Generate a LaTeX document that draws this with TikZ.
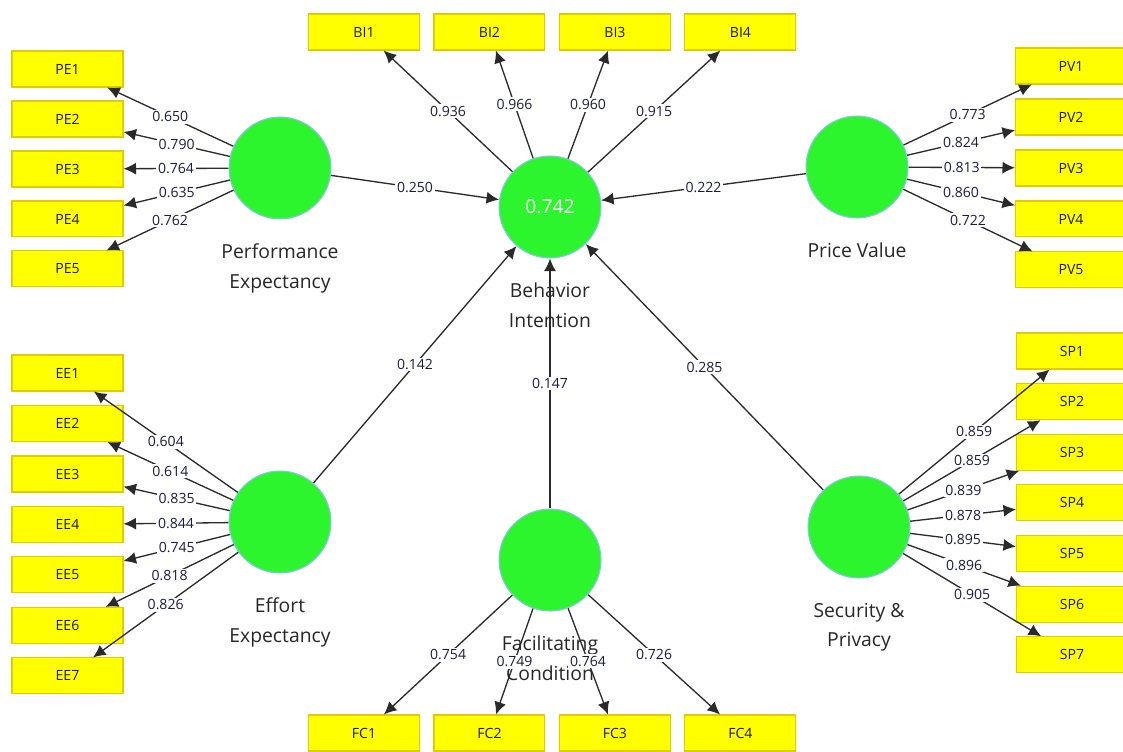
\documentclass[tikz,border=0pt]{standalone}
\usepackage{fontspec}
\setmainfont{Open Sans}
\usetikzlibrary{arrows.meta,positioning}
\definecolor{lvgreen}{HTML}{2DF52D}
\definecolor{lvrim}{HTML}{8CC4EC}
\definecolor{mvyellow}{HTML}{FFFF00}
\definecolor{mvrim}{HTML}{E0CC00}
\definecolor{pathgray}{HTML}{2A2A2A}
\definecolor{coefblue}{HTML}{1C1C40}
\begin{document}
\begin{tikzpicture}[x=0.02cm,y=-0.02cm,node distance=1cm,
      latent node/.style={circle,fill=lvgreen,draw=lvrim,line width=0.6pt,inner sep=0pt,minimum size=2.04cm},
      lv label/.style={font=\fontsize{11}{17}\selectfont,align=center,text=black!85,inner sep=0pt},
      item node/.style={rectangle,fill=mvyellow,draw=mvrim,line width=0.6pt,minimum width=2.22cm,minimum height=0.72cm,font=\fontsize{8}{9}\selectfont,text=black!90},
      coef/.style={fill=white,inner sep=1pt,font=\fontsize{8}{9}\selectfont,text=coefblue}]

      \useasboundingbox (0,0) rectangle (1123,751);

      \node[latent node,label={[lv label,label distance=0.48cm]below:{Performance\\Expectancy}}] (PE) at (280,168) {};
      \node[latent node,text=white,font=\fontsize{11}{13}\selectfont,label={[lv label,label distance=0.48cm]below:{Behavior\\Intention}}] (BI) at (550,207) {0.742};
      \node[latent node,label={[lv label,label distance=0.48cm]below:{Price Value}}] (PV) at (857,167) {};
      \node[latent node,label={[lv label,label distance=0.48cm]below:{Effort\\Expectancy}}] (EE) at (280,522) {};
      \node[latent node,label={[lv label,label distance=0.48cm]below:{Facilitating\\Condition}}] (FC) at (550,560) {};
      \node[latent node,label={[lv label,label distance=0.48cm]below:{Security \&\\Privacy}}] (SP) at (859,527) {};

      \node[item node] (PE1) at (67.5,69) {PE1};
      \node[item node] (PE2) [below of=PE1] {PE2};
      \node[item node] (PE3) [below of=PE2] {PE3};
      \node[item node] (PE4) [below of=PE3] {PE4};
      \node[item node] (PE5) [below of=PE4] {PE5};

      \node[item node] (EE1) at (67.5,373) {EE1};
      \node[item node,node distance=1.01cm] (EE2) [below of=EE1] {EE2};
      \node[item node,node distance=1.01cm] (EE3) [below of=EE2] {EE3};
      \node[item node,node distance=1.01cm] (EE4) [below of=EE3] {EE4};
      \node[item node,node distance=1.01cm] (EE5) [below of=EE4] {EE5};
      \node[item node,node distance=1.01cm] (EE6) [below of=EE5] {EE6};
      \node[item node,node distance=1.01cm] (EE7) [below of=EE6] {EE7};

      \node[item node] (BI1) at (364,32) {BI1};
      \node[item node,node distance=2.51cm] (BI2) [right of=BI1] {BI2};
      \node[item node,node distance=2.51cm] (BI3) [right of=BI2] {BI3};
      \node[item node,node distance=2.51cm] (BI4) [right of=BI3] {BI4};

      \node[item node] (FC1) at (364,733) {FC1};
      \node[item node,node distance=2.51cm] (FC2) [right of=FC1] {FC2};
      \node[item node,node distance=2.51cm] (FC3) [right of=FC2] {FC3};
      \node[item node,node distance=2.51cm] (FC4) [right of=FC3] {FC4};

      \node[item node] (PV1) at (1071,66) {PV1};
      \node[item node,node distance=1.02cm] (PV2) [below of=PV1] {PV2};
      \node[item node,node distance=1.02cm] (PV3) [below of=PV2] {PV3};
      \node[item node,node distance=1.02cm] (PV4) [below of=PV3] {PV4};
      \node[item node,node distance=1.02cm] (PV5) [below of=PV4] {PV5};

      \node[item node] (SP1) at (1072,351) {SP1};
      \node[item node,node distance=1.013cm] (SP2) [below of=SP1] {SP2};
      \node[item node,node distance=1.013cm] (SP3) [below of=SP2] {SP3};
      \node[item node,node distance=1.013cm] (SP4) [below of=SP3] {SP4};
      \node[item node,node distance=1.013cm] (SP5) [below of=SP4] {SP5};
      \node[item node,node distance=1.013cm] (SP6) [below of=SP5] {SP6};
      \node[item node,node distance=1.013cm] (SP7) [below of=SP6] {SP7};

      \path[every node/.style={coef},
            every edge/.style={draw,pathgray,line width=0.75pt,-{Latex[length=2.5mm,width=2.4mm]}}]
        (PE) edge node {0.650} (PE1)
             edge node {0.790} (PE2)
             edge node {0.764} (PE3)
             edge node {0.635} (PE4)
             edge node {0.762} (PE5)
             edge node {0.250} (BI)
        (EE) edge node {0.604} (EE1)
             edge node {0.614} (EE2)
             edge node {0.835} (EE3)
             edge node {0.844} (EE4)
             edge node {0.745} (EE5)
             edge node {0.818} (EE6)
             edge node {0.826} (EE7)
             edge node {0.142} (BI)
        (BI) edge node {0.936} (BI1)
             edge node {0.966} (BI2)
             edge node {0.960} (BI3)
             edge node {0.915} (BI4)
        (FC) edge node {0.754} (FC1)
             edge node {0.749} (FC2)
             edge node {0.764} (FC3)
             edge node {0.726} (FC4)
             edge node {0.147} (BI)
        (PV) edge node {0.773} (PV1)
             edge node {0.824} (PV2)
             edge node {0.813} (PV3)
             edge node {0.860} (PV4)
             edge node {0.722} (PV5)
             edge node {0.222} (BI)
        (SP) edge node {0.859} (SP1)
             edge node {0.859} (SP2)
             edge node {0.839} (SP3)
             edge node {0.878} (SP4)
             edge node {0.895} (SP5)
             edge node {0.896} (SP6)
             edge node {0.905} (SP7)
             edge node {0.285} (BI);
    \end{tikzpicture}
\end{document}
